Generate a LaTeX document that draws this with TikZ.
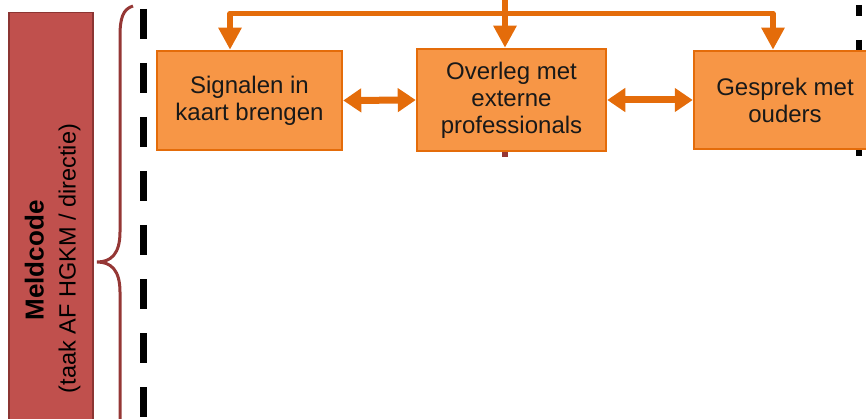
\documentclass[tikz,border=0pt]{standalone}
\usepackage{fontspec}
\setmainfont{Liberation Sans}
\usetikzlibrary{arrows.meta}
\definecolor{boxfill}{HTML}{F79646}
\definecolor{boxline}{HTML}{E46C0A}
\definecolor{arrowc}{HTML}{E46C0A}
\definecolor{redfill}{HTML}{C0504D}
\definecolor{redline}{HTML}{8C3533}
\definecolor{bracec}{HTML}{953735}
\begin{document}
\begin{tikzpicture}[x=1pt,y=-1pt,
  obox/.style={draw=boxline, fill=boxfill, line width=2.5pt, align=center,
    inner sep=0pt, font=\fontsize{24}{27}\selectfont, text=black!90},
  dblarrow/.style={draw=arrowc, line width=7pt,
    {Triangle[length=18pt,width=23pt]}-{Triangle[length=18pt,width=23pt]}},
  toparrow/.style={draw=arrowc, line width=5.5pt, line join=round,
    -{Triangle[length=22pt,width=22pt]}},
  topboth/.style={draw=arrowc, line width=5.5pt, line join=round,
    {Triangle[length=22pt,width=22pt]}-{Triangle[length=22pt,width=22pt]}},
  ltdash/.style={draw=black, line width=7pt, dash pattern=on 30pt off 24pt},
  rtdash/.style={draw=black, line width=6pt, dash pattern=on 11pt off 24pt},
  bracestyle/.style={draw=bracec, line width=3pt},
  stubline/.style={draw=bracec, line width=6pt}
]
\useasboundingbox (0,0) rectangle (866,419);
\clip (0,0) rectangle (866,419);

% red side bar
\node[draw=redline, fill=redfill, line width=1.5pt, minimum width=84pt,
  minimum height=420pt, inner sep=0pt, anchor=north west] (bar) at (8,12) {};
\node[rotate=90, anchor=base, font=\fontsize{26}{28}\selectfont\bfseries]
  (meld) at (43.5,260.5) {Meldcode};
\node[rotate=90, anchor=base, font=\fontsize{23.5}{26}\selectfont]
  (taak) at (75.5,258.5) {(taak AF HGKM / directie)};

% brace
\draw[bracestyle] (133,6) .. controls (123,9) and (120,18) .. (120,36)
  -- (120,232) .. controls (120,254) and (111,262) .. (97,262)
  .. controls (111,262) and (120,270) .. (120,292) -- (120,430);

% dashed lines
\draw[ltdash] (143,9) -- (143,430);
\draw[rtdash] (859,5) -- (859,157);

% stub under middle box
\coordinate (stub) at (505,157);
\draw[stubline] (505,140) -- (stub);

% boxes
\node[obox, minimum width=185pt, minimum height=99pt] (b1) at (249.5,100.5)
  {Signalen in\\kaart brengen};
\node[obox, minimum width=189pt, minimum height=102pt] (b2) at (511.5,100)
  {Overleg met\\externe\\professionals};
\node[obox, minimum width=182pt, minimum height=98pt] (b3) at (785,100)
  {Gesprek met\\ouders};

% connectors
\draw[dblarrow] (b1.east) -- (b2.west);
\draw[dblarrow] (b2.east) -- (b3.west);

\coordinate (src) at (505,-2);
\coordinate (jl) at (230,13.5);
\coordinate (jr) at (773,13.5);
\draw[toparrow] (src) -- (src |- b2.north);
\draw[topboth] (b1.north -| jl) -- (jl) -- (jr) -- (b3.north -| jr);
\end{tikzpicture}
\end{document}
